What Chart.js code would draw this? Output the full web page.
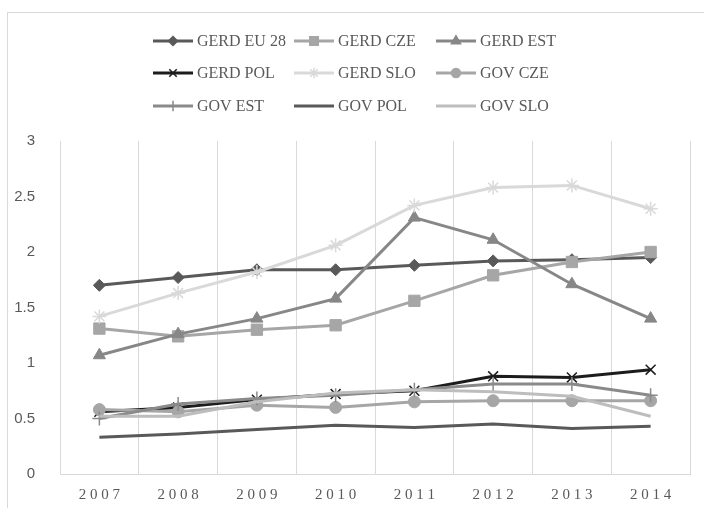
<!DOCTYPE html>
<html>
<head>
<meta charset="utf-8">
<script src="https://cdn.jsdelivr.net/npm/chart.js@4/dist/chart.umd.min.js"></script>
<style>
  html, body { margin: 0; padding: 0; background: #fff; }
  #wrap { width: 704px; height: 508px; position: relative; }
</style>
</head>
<body>
<div id="wrap"><canvas id="c" width="704" height="508"></canvas></div>
<script>
const years = ['2007', '2008', '2009', '2010', '2011', '2012', '2013', '2014'];
const yTicks = [0, 0.5, 1, 1.5, 2, 2.5, 3];

const gerdEu28 = [1.70, 1.77, 1.84, 1.84, 1.88, 1.92, 1.93, 1.95];
const gerdCze  = [1.31, 1.24, 1.30, 1.34, 1.56, 1.79, 1.91, 2.00];
const gerdEst  = [1.07, 1.26, 1.40, 1.58, 2.31, 2.11, 1.71, 1.40];
const gerdPol  = [0.56, 0.60, 0.67, 0.72, 0.75, 0.88, 0.87, 0.94];
const gerdSlo  = [1.42, 1.63, 1.82, 2.06, 2.42, 2.58, 2.60, 2.39];
const govCze   = [0.58, 0.56, 0.62, 0.60, 0.65, 0.66, 0.66, 0.66];
const govEst   = [0.50, 0.63, 0.68, 0.71, 0.76, 0.81, 0.81, 0.71];
const govPol   = [0.33, 0.36, 0.40, 0.44, 0.42, 0.45, 0.41, 0.43];
const govSlo   = [0.52, 0.52, 0.65, 0.73, 0.76, 0.74, 0.70, 0.52];

const series = [
  { label: 'GERD EU 28', data: gerdEu28, color: '#595959', style: 'rectRot', r: 6 },
  { label: 'GERD CZE', data: gerdCze, color: '#a6a6a6', style: 'rect', r: 8 },
  { label: 'GERD EST', data: gerdEst, color: '#878787', style: 'triangle', r: 7 },
  { label: 'GERD POL', data: gerdPol, color: '#1c1c1c', style: 'crossRot', r: 7 },
  { label: 'GERD SLO', data: gerdSlo, color: '#d9d9d9', style: 'star', r: 7 },
  { label: 'GOV CZE', data: govCze, color: '#a6a6a6', style: 'circle', r: 6 },
  { label: 'GOV EST', data: govEst, color: '#8a8a8a', style: 'cross', r: 7 },
  { label: 'GOV POL', data: govPol, color: '#595959', style: false, r: 0 },
  { label: 'GOV SLO', data: govSlo, color: '#bdbdbd', style: false, r: 0 },
];

// Excel-style grid legend, 3 columns
const gridLegend = {
  id: 'gridLegend',
  afterDraw(chart) {
    const { ctx } = chart;
    const cols = [153, 294, 436];
    const rows = [41, 73, 106];
    ctx.save();
    series.forEach((s, i) => {
      const x = cols[i % 3], y = rows[Math.floor(i / 3)];
      ctx.strokeStyle = s.color;
      ctx.lineWidth = 3;
      ctx.beginPath();
      ctx.moveTo(x, y);
      ctx.lineTo(x + 40, y);
      ctx.stroke();
      if (s.style && Chart.helpers && Chart.helpers.drawPoint) {
        ctx.fillStyle = s.color;
        ctx.strokeStyle = s.color;
        ctx.lineWidth = 1.5;
        Chart.helpers.drawPoint(ctx, { pointStyle: s.style, radius: s.r * 0.75, rotation: 0, borderWidth: 1.5 }, x + 20, y);
      }
      ctx.fillStyle = '#595959';
      ctx.font = '16px "Liberation Serif", serif';
      ctx.textBaseline = 'middle';
      ctx.textAlign = 'left';
      ctx.fillText(s.label, x + 44, y + 1);
    });
    ctx.restore();
  }
};

const frame = {
  id: 'frame',
  beforeDraw(chart) {
    const { ctx } = chart;
    ctx.save();
    ctx.strokeStyle = '#d9d9d9';
    ctx.lineWidth = 1;
    ctx.strokeRect(7.5, 12.5, 900, 900);
    ctx.restore();
  }
};

new Chart(document.getElementById('c'), {
  type: 'line',
  data: {
    labels: years,
    datasets: series.map((s, i) => ({
      label: s.label,
      data: s.data,
      borderColor: s.color,
      backgroundColor: s.color,
      borderWidth: 3,
      pointStyle: s.style,
      pointRadius: s.r,
      pointBorderWidth: (s.style === 'crossRot' || s.style === 'star' || s.style === 'cross') ? 1.5 : 1,
      tension: 0,
      fill: false,
      order: series.length - i,
    })),
  },
  options: {
    responsive: false,
    animation: false,
    layout: { padding: { top: 141, right: 14, bottom: 0, left: 0 } },
    plugins: { legend: { display: false }, tooltip: { enabled: false } },
    scales: {
      x: {
        offset: true,
        grid: { offset: true, color: '#d9d9d9', lineWidth: 1, drawTicks: false },
        border: { color: '#d9d9d9', width: 1 },
        ticks: {
          color: '#595959',
          font: { family: '"Liberation Serif", serif', size: 15 },
          padding: 12,
          callback: (v, i) => years[i].split('').join('\u2005'),
        },
        afterFit: (scale) => { scale.height = 34; },
      },
      y: {
        min: 0,
        max: 3,
        grid: { display: false },
        border: { display: false },
        afterBuildTicks: (scale) => { scale.ticks = yTicks.map(v => ({ value: v })); },
        ticks: {
          color: '#595959',
          font: { family: '"Liberation Sans", sans-serif', size: 15 },
          padding: 17,
          callback: (v) => String(v),
        },
        afterFit: (scale) => { scale.width = 60; },
      },
    },
  },
  plugins: [frame, gridLegend],
});
</script>
</body>
</html>
